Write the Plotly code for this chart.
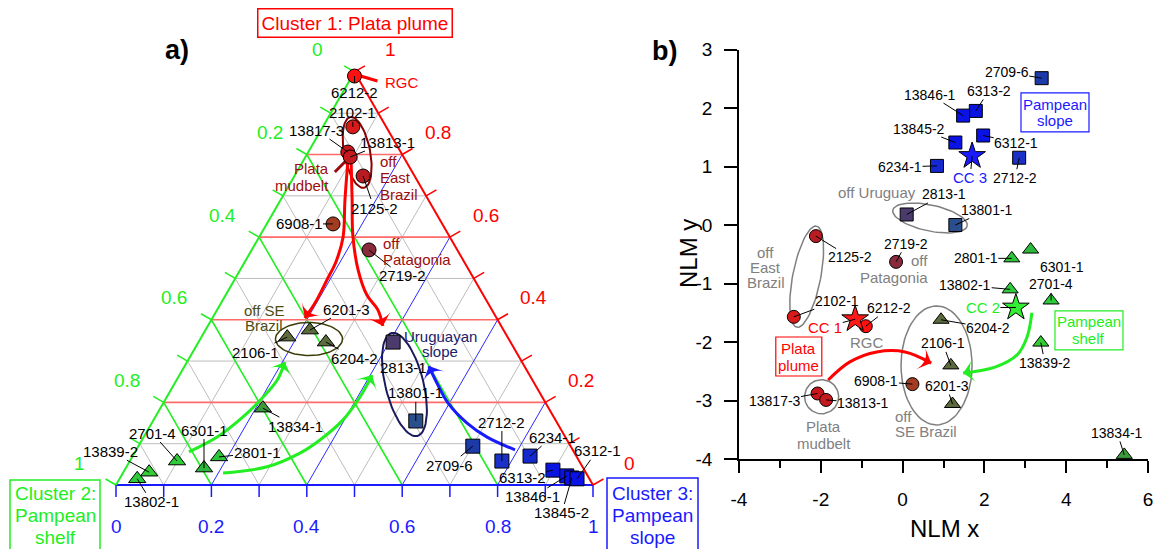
import math
import plotly.graph_objects as go

FIG_W, FIG_H = 1156, 549
FONT = "Liberation Sans, Arial, sans-serif"

RED, GREEN, BLUE = "#ff0000", "#22ee22", "#1a1aff"

# ---------------------------------------------------------------- data
samples = ["6212-2", "2102-1", "13817-3", "13813-1", "2125-2", "6908-1", "2719-2",
           "6201-3", "2106-1", "6204-2", "13834-1", "2701-4", "6301-1", "2801-1",
           "13839-2", "13802-1",
           "2813-1", "13801-1", "2709-6", "2712-2", "6234-1", "6313-2", "13846-1",
           "13845-2", "6312-1"]
group = [1, 1, 1, 1, 1, 1, 1,
         2, 2, 2, 2, 2, 2, 2, 2, 2,
         3, 3, 3, 3, 3, 3, 3, 3, 3]

# fuzzy memberships to the three clusters (ternary diagram)
memb_c1 = [0.990, 0.867, 0.806, 0.794, 0.748, 0.632, 0.569,
           0.375, 0.358, 0.346, 0.186, 0.058, 0.041, 0.068, 0.031, 0.015,
           0.346, 0.155, 0.094, 0.058, 0.070, 0.036, 0.022, 0.017, 0.015]
memb_c2 = [0.005, 0.070, 0.111, 0.112, 0.108, 0.229, 0.185,
           0.406, 0.462, 0.387, 0.599, 0.843, 0.795, 0.750, 0.915, 0.948,
           0.246, 0.294, 0.205, 0.162, 0.097, 0.066, 0.044, 0.036, 0.026]
memb_c3 = [0.005, 0.063, 0.083, 0.094, 0.144, 0.139, 0.246,
           0.219, 0.180, 0.267, 0.215, 0.099, 0.164, 0.182, 0.054, 0.037,
           0.408, 0.551, 0.701, 0.780, 0.833, 0.898, 0.934, 0.947, 0.959]

# non-linear mapping coordinates
nlm_x = [-0.90, -2.66, -2.08, -1.87, -2.12, 0.24, -0.16,
         1.22, 1.18, 0.94, 5.42, 3.63, 3.13, 2.67, 3.38, 2.63,
         0.10, 1.29, 3.40, 2.85, 0.84, 1.79, 1.48, 1.29, 1.97]
nlm_y = [-1.73, -1.57, -2.88, -2.99, -0.19, -2.72, -0.63,
         -3.06, -2.40, -1.62, -3.93, -1.29, -0.42, -0.57, -2.01, -1.10,
         0.18, 0.00, 2.51, 1.15, 1.01, 1.95, 1.87, 1.41, 1.53]

centre_names = ["CC 1", "CC 2", "CC 3"]
centre_x = [-1.16, 2.77, 1.70]
centre_y = [-1.61, -1.41, 1.18]

tern_ticks = [0, 0.2, 0.4, 0.6, 0.8, 1]
tern_tick_text = ["0", "0.2", "0.4", "0.6", "0.8", "1"]
x_tickvals = [-4, -2, 0, 2, 4, 6]
x_ticktext = ["-4", "-2", "0", "2", "4", "6"]
y_tickvals = [-4, -3, -2, -1, 0, 1, 2, 3]
y_ticktext = ["-4", "-3", "-2", "-1", "0", "1", "2", "3"]

# ---------------------------------------------------------------- styles
sample_color = {
    "6212-2": "#ff1010", "2102-1": "#d81a1a", "13817-3": "#c8161c", "13813-1": "#c41a20",
    "2125-2": "#b81c22", "6908-1": "#a43c22", "2719-2": "#8a2b3c",
    "6201-3": "#5b6a3c", "2106-1": "#5d6b3d", "6204-2": "#5a6b3d", "13834-1": "#3c9a3c",
    "2701-4": "#2fcc3a", "6301-1": "#2cb83a", "2801-1": "#2ec43a", "13839-2": "#33cc33",
    "13802-1": "#2ecc3a",
    "2813-1": "#4a3b6c", "13801-1": "#2b4e8c", "2709-6": "#1c3aa8", "2712-2": "#1a30c8",
    "6234-1": "#1428d0", "6313-2": "#0a14e0", "13846-1": "#0a12e6", "13845-2": "#0a12e6",
    "6312-1": "#0a12e6",
}
group_symbol = {1: "circle", 2: "triangle-up", 3: "square"}
tern_size = {1: 14, 2: 15, 3: 14}
nlm_size = {1: 13, 2: 14, 3: 13}

# label offsets (pixels, label centre relative to its marker)
tern_lab_dx = [0, 0, -31, 37, 11, -34, 33, 37, -32, 29, 33, -25, 0, 38, -39, 14,
               10, 0, -23, 0, 22, -30, -34, -10, 20]
tern_lab_dy = [16, -14, -22, -15, 32, 0, 26, -21, 15, 16, 18, -28, -38, -4, -21, 23,
               25, -28, 19, -39, -19, 7, 21, 35, -28]
nlm_lab_dx = [23, 43, -43, 37, 34, -36, 10, -6, -8, 47, -7, 0, 31, -36, 4, -45,
              37, 32, -35, -4, -37, 13, -33, -36, 33]
nlm_lab_dy = [-18, -16, 8, 3, 21, -3, -18, -18, -22, 8, -22, -16, 17, 0, 20, -4,
              -20, -15, -6, 20, 1, -20, -21, -14, 7]

# ---------------------------------------------------------------- frames
# ternary panel: a hidden equal-scale cartesian frame, side of the triangle = 1 unit
TRI_LEFT, TRI_BASE, TRI_SIDE = 116.0, 485.0, 477.0      # pixels
LEFT_PANEL_W = 620.0
X2_RANGE = [-TRI_LEFT / TRI_SIDE, (LEFT_PANEL_W - TRI_LEFT) / TRI_SIDE]
Y2_RANGE = [-(FIG_H - TRI_BASE) / TRI_SIDE, TRI_BASE / TRI_SIDE]
HALF_R3 = math.sqrt(3) / 2

XY_DOM_X = [739 / FIG_W, 1148 / FIG_W]
XY_DOM_Y = [1 - 459 / FIG_H, 1 - 49.5 / FIG_H]
X_RANGE, Y_RANGE = [-4, 6], [-4, 3]
PX_PER_X = (XY_DOM_X[1] - XY_DOM_X[0]) * FIG_W / (X_RANGE[1] - X_RANGE[0])
PX_PER_Y = (XY_DOM_Y[1] - XY_DOM_Y[0]) * FIG_H / (Y_RANGE[1] - Y_RANGE[0])


def proj(a, b, c):
    """Ternary (Cluster 1, Cluster 2, Cluster 3) -> plane of the triangle."""
    s = a + b + c
    return (c + a / 2) / s, a * HALF_R3 / s


def px_shift(x, y, dx, dy):
    return x + dx / TRI_SIDE, y - dy / TRI_SIDE


def ellipse_offsets(rx, ry, rot, n=72):
    th = math.radians(rot)
    out = []
    for k in range(n + 1):
        t = 2 * math.pi * k / n
        ex, ey = rx * math.cos(t), ry * math.sin(t)
        out.append((ex * math.cos(th) - ey * math.sin(th),
                    ex * math.sin(th) + ey * math.cos(th)))
    return out


def seg_trace(segs, color, width, xa="x2", ya="y2"):
    X, Y = [], []
    for (x0, y0), (x1, y1) in segs:
        X += [x0, x1, None]
        Y += [y0, y1, None]
    return go.Scatter(x=X, y=Y, mode="lines", hoverinfo="skip", showlegend=False,
                      xaxis=xa, yaxis=ya, line=dict(color=color, width=width))


fig = go.Figure()

# ---------------------------------------------------------------- ternary grid
def family(kind, v):
    if kind == "a":
        return proj(v, 1 - v, 0), proj(v, 0, 1 - v)
    if kind == "b":
        return proj(1 - v, v, 0), proj(0, v, 1 - v)
    return proj(1 - v, 0, v), proj(0, 1 - v, v)


minor_v = [0.1, 0.3, 0.5, 0.7, 0.9]
major_v = [0.2, 0.4, 0.6, 0.8]
fig.add_trace(seg_trace([family(k, v) for k in "abc" for v in minor_v], "#bdbdbd", 1))
fig.add_trace(seg_trace([family("c", v) for v in major_v], "#2a2aff", 1))
fig.add_trace(seg_trace([family("b", v) for v in major_v], "#22ee22", 1.6))
fig.add_trace(seg_trace([family("a", v) for v in major_v], "#ff6a6a", 1.6))

# ticks (every 0.1, perpendicular to each side)
tick_v = [k / 10 for k in range(11)]
TL = 12
def tick_segs(points, dx, dy):
    return [(p, px_shift(*p, dx, dy)) for p in points]

fig.add_trace(seg_trace(tick_segs([proj(1 - v, v, 0) for v in tick_v], -TL * HALF_R3, -TL / 2), GREEN, 1.5))
fig.add_trace(seg_trace(tick_segs([proj(v, 0, 1 - v) for v in tick_v], TL * HALF_R3, -TL / 2), RED, 1.5))
fig.add_trace(seg_trace(tick_segs([proj(0, 1 - v, v) for v in tick_v], 0, TL), BLUE, 1.5))

# sides of the triangle
fig.add_trace(seg_trace([(proj(0, 1, 0), proj(0, 0, 1))], BLUE, 2))
fig.add_trace(seg_trace([(proj(0, 1, 0), proj(1, 0, 0))], GREEN, 2))
fig.add_trace(seg_trace([(proj(1, 0, 0), proj(0, 0, 1))], RED, 2))

# ---------------------------------------------------------------- ternary group outlines
idx = {s: i for i, s in enumerate(samples)}
tern_xy = [proj(memb_c1[i], memb_c2[i], memb_c3[i]) for i in range(len(samples))]
DARK_RED = "#9b0d0d"

tern_ellipses = [
    ((0.805, 0.092, 0.103), 13, 36, -11, "#8b0000", 2),
    ((0.3535, 0.4187, 0.2278), 33.5, 16.5, 0, "#3c3c08", 1.5),
    ((0.2433, 0.2736, 0.4831), 19, 53, -14, "#1a1a5e", 2),
]
for centre, rx, ry, rot, col, lw in tern_ellipses:
    cx, cy = proj(*centre)
    pts = [px_shift(cx, cy, dx, dy) for dx, dy in ellipse_offsets(rx, ry, rot)]
    fig.add_trace(go.Scatter(x=[p[0] for p in pts], y=[p[1] for p in pts], mode="lines",
                             xaxis="x2", yaxis="y2", hoverinfo="skip", showlegend=False,
                             line=dict(color=col, width=lw)))

# thick pointers of the RGC and mudbelt names
for anchor, d0, d1, col in [("6212-2", (6, 0), (23, 5), RED),
                            ("13817-3", (-13, 20), (-1, 8), DARK_RED)]:
    p = tern_xy[idx[anchor]]
    fig.add_trace(seg_trace([(px_shift(*p, *d0), px_shift(*p, *d1))], col, 3))

# ---------------------------------------------------------------- ternary transport arrows
tern_arrows = [
    (RED, [(0.782, 0.123, 0.095), (0.690, 0.175, 0.135), (0.600, 0.224, 0.176),
           (0.540, 0.269, 0.191), (0.496, 0.310, 0.194), (0.441, 0.362, 0.197),
           (0.404, 0.402, 0.194)]),
    (RED, [(0.782, 0.116, 0.102), (0.690, 0.160, 0.150), (0.605, 0.201, 0.194),
           (0.521, 0.232, 0.247), (0.460, 0.244, 0.296), (0.424, 0.239, 0.337),
           (0.385, 0.248, 0.367)]),
    (GREEN, [(0.080, 0.807, 0.113), (0.116, 0.730, 0.154), (0.165, 0.652, 0.184),
             (0.213, 0.585, 0.202), (0.254, 0.535, 0.211), (0.298, 0.497, 0.205)]),
    (GREEN, [(0.029, 0.761, 0.210), (0.044, 0.661, 0.295), (0.077, 0.576, 0.347),
             (0.109, 0.518, 0.373), (0.157, 0.446, 0.397), (0.213, 0.382, 0.405),
             (0.266, 0.330, 0.404)]),
    (BLUE, [(0.085, 0.121, 0.794), (0.116, 0.164, 0.720), (0.150, 0.189, 0.661),
            (0.199, 0.205, 0.597), (0.247, 0.204, 0.550), (0.288, 0.200, 0.512)]),
]
for col, path in tern_arrows:
    pts = [proj(*p) for p in path]
    n = len(pts)
    fig.add_trace(go.Scatter(
        x=[p[0] for p in pts], y=[p[1] for p in pts], xaxis="x2", yaxis="y2",
        mode="lines+markers", hoverinfo="skip", showlegend=False,
        line=dict(color=col, width=3, shape="spline"),
        marker=dict(symbol="arrow-wide", size=[0] * (n - 1) + [17], color=col, opacity=1,
                    angleref="previous", line=dict(width=0))))

# ---------------------------------------------------------------- ternary samples
fig.add_trace(go.Scatter(
    x=[p[0] for p in tern_xy], y=[p[1] for p in tern_xy], xaxis="x2", yaxis="y2",
    mode="markers", text=samples, hoverinfo="text", showlegend=False,
    marker=dict(symbol=[group_symbol[g] for g in group],
                size=[tern_size[g] for g in group], opacity=1,
                color=[sample_color[s] for s in samples],
                line=dict(color="black", width=1))))

# ---------------------------------------------------------------- NLM panel: outlines
nlm_ellipses = [
    (0.67, 0.12, 38, 13, 12),
    (-2.345, -0.884, 14, 51.5, 11),
    (-1.98, -2.935, 17, 17, 0),
    (0.83, -2.40, 35.5, 59.5, 0),
]
for cx, cy, rx, ry, rot in nlm_ellipses:
    offs = ellipse_offsets(rx, ry, rot)
    fig.add_trace(go.Scatter(x=[cx + dx / PX_PER_X for dx, dy in offs],
                             y=[cy - dy / PX_PER_Y for dx, dy in offs],
                             mode="lines", hoverinfo="skip", showlegend=False,
                             line=dict(color="#7f7f7f", width=1.5)))

# NLM panel arrows
nlm_arrows = [
    (RED, [-1.82, -1.29, -0.63, 0.06, 0.70], [-2.65, -2.34, -2.17, -2.17, -2.36]),
    (GREEN, [3.16, 3.05, 2.80, 2.26, 1.48], [-1.50, -1.90, -2.22, -2.43, -2.53]),
]
for col, ax_, ay_ in nlm_arrows:
    n = len(ax_)
    fig.add_trace(go.Scatter(
        x=ax_, y=ay_, mode="lines+markers", hoverinfo="skip", showlegend=False,
        line=dict(color=col, width=3, shape="spline"),
        marker=dict(symbol="arrow-wide", size=[0] * (n - 1) + [17], color=col, opacity=1,
                    angleref="previous", line=dict(width=0))))

# NLM samples and cluster centres
fig.add_trace(go.Scatter(
    x=nlm_x, y=nlm_y, mode="markers", text=samples, hoverinfo="text", showlegend=False,
    cliponaxis=False,
    marker=dict(symbol=[group_symbol[g] for g in group],
                size=[nlm_size[g] for g in group], opacity=1,
                color=[sample_color[s] for s in samples],
                line=dict(color="black", width=1))))
fig.add_trace(go.Scatter(
    x=centre_x, y=centre_y, mode="markers", text=centre_names, hoverinfo="text",
    showlegend=False,
    marker=dict(symbol="star", size=20, color=["#ff1a1a", "#33ee33", "#1a1aff"], opacity=1,
                line=dict(color="black", width=1))))

# ---------------------------------------------------------------- annotations
ann = []
shapes = []


def text_lines(x, y, lines, size, color, spacing, xref, yref, xanchor="center",
               dx=0, dy=0):
    """Stack of single-line texts with a fixed line pitch (pixels)."""
    n = len(lines)
    for k, line in enumerate(lines):
        ann.append(dict(x=x, y=y, xref=xref, yref=yref, text=line, showarrow=False,
                        xanchor=xanchor, yanchor="middle", xshift=dx,
                        yshift=-(dy + (k - (n - 1) / 2) * spacing),
                        font=dict(size=size, color=color, family=FONT)))


# ternary side labels
def side_labels(points, dx, dy, col):
    for (x, y), t in zip(points, tern_tick_text):
        text_lines(x, y, [t], 19, col, 0, "x2", "y2", dx=dx, dy=dy)

side_labels([proj(1 - v, v, 0) for v in tern_ticks], -37, -22, GREEN)
side_labels([proj(v, 0, 1 - v) for v in tern_ticks], 36, -22, RED)
side_labels([proj(0, 1 - v, v) for v in tern_ticks], 0, 41, BLUE)

# sample labels with leaders, both panels
for i, s in enumerate(samples):
    ann.append(dict(x=tern_xy[i][0], y=tern_xy[i][1], xref="x2", yref="y2", text=s,
                    showarrow=True, arrowhead=0, arrowwidth=1, arrowcolor="black",
                    ax=tern_lab_dx[i], ay=tern_lab_dy[i], standoff=0, borderpad=0,
                    font=dict(size=15, color="black", family=FONT)))
    ann.append(dict(x=nlm_x[i], y=nlm_y[i], xref="x", yref="y", text=s,
                    showarrow=True, arrowhead=0, arrowwidth=1, arrowcolor="black",
                    ax=nlm_lab_dx[i], ay=nlm_lab_dy[i], standoff=0, borderpad=0,
                    font=dict(size=14, color="black", family=FONT)))

# group names inside the ternary (anchor sample, pixel offset, line pitch)
tern_groups = [
    (["RGC"], "6212-2", 28, 6, 0, "left", RED),
    (["Plata", "mudbelt"], "13817-3", -17, 24.5, 17, "right", DARK_RED),
    (["off", "East", "Brazil"], "2125-2", 15, 1.5, 16.5, "left", DARK_RED),
    (["off", "Patagonia"], "2719-2", 12, 2, 16, "left", DARK_RED),
    (["off SE", "Brazil"], "2106-1", -23, -19, 15.7, "center", "#4d4d16"),
    (["Uruguayan", "slope"], "2813-1", 47, 2, 15, "center", "#20206a"),
]
for lines, anchor, dx, dy, pitch, xa, col in tern_groups:
    x, y = tern_xy[idx[anchor]]
    text_lines(x, y, lines, 15, col, pitch, "x2", "y2", xanchor=xa, dx=dx, dy=dy)

# cluster centre names
centre_lab = [(-30, 8, RED), (-33, 0, "#22ee22"), (-2, 22, BLUE)]
for k, (dx, dy, col) in enumerate(centre_lab):
    ann.append(dict(x=centre_x[k], y=centre_y[k], xref="x", yref="y", text=centre_names[k],
                    showarrow=True, arrowhead=0, arrowwidth=1, arrowcolor="black",
                    ax=dx, ay=dy, standoff=0, borderpad=0,
                    font=dict(size=15, color=col, family=FONT)))

GREY = "#808080"
for lines, x, y, pitch, xa in [
    (["off Uruguay"], -0.633, 0.552, 0, "center"),
    (["off", "East", "Brazil"], -3.34, -0.718, 15, "center"),
    (["off", "Patagonia"], 0.67, -0.744, 17, "right"),
    (["RGC"], -0.878, -2.017, 0, "center"),
    (["Plata", "mudbelt"], -1.922, -3.59, 16.3, "center"),
    (["off", "SE Brazil"], -0.242, -3.41, 15, "left"),
]:
    text_lines(x, y, lines, 15, GREY, pitch, "x", "y", xanchor=xa)

# boxed names in the NLM panel
for lines, x, y, w, pitch, col in [(["Plata", "plume"], -2.538, -2.248, 46, 17, RED),
                                   (["Pampean", "shelf"], 4.557, -1.80, 68, 16.7, "#22ee22"),
                                   (["Pampean", "slope"], 3.726, 1.926, 68, 16, BLUE)]:
    shapes.append(dict(type="rect", xref="x", yref="y", xsizemode="pixel",
                       ysizemode="pixel", xanchor=x, yanchor=y, x0=-w / 2, x1=w / 2,
                       y0=-19.5, y1=19.5, line=dict(color=col, width=1.2),
                       fillcolor="white", layer="above"))
    text_lines(x, y, lines, 15, col, pitch, "x", "y")

# cluster legends at the ternary corners
ann.append(dict(x=355 / FIG_W, y=1 - 22.5 / FIG_H, xref="paper", yref="paper",
                xanchor="center", yanchor="middle",
                text="Cluster 1: Plata plume", showarrow=False, bordercolor=RED,
                borderwidth=1.5, borderpad=3, font=dict(size=19, color=RED, family=FONT)))
for lines, cx, top, left, right, mid, col in [
        (["Cluster 2:", "Pampean", "shelf"], 55, 480, 10, 100, 515.5, GREEN),
        (["Cluster 3:", "Pampean", "slope"], 652.5, 478, 607, 698, 515.5, BLUE)]:
    shapes.append(dict(type="rect", xref="paper", yref="paper", x0=left / FIG_W,
                       x1=right / FIG_W, y0=1 - top / FIG_H, y1=-0.1,
                       line=dict(color=col, width=1.5)))
    text_lines(cx / FIG_W, 1 - mid / FIG_H, lines, 19, col, 22, "paper", "paper")

for text, x, y in [("a)", 177, 50), ("b)", 664, 51)]:
    ann.append(dict(x=x / FIG_W, y=1 - y / FIG_H, xref="paper", yref="paper",
                    xanchor="center", yanchor="middle",
                    text="<b>%s</b>" % text, showarrow=False,
                    font=dict(size=27, color="black", family=FONT)))

# axis titles of the NLM panel
ann.append(dict(x=944 / FIG_W, y=1 - 528 / FIG_H, xref="paper", yref="paper",
                xanchor="center", yanchor="middle", text="NLM x", showarrow=False,
                font=dict(size=24, color="black", family=FONT)))
ann.append(dict(x=689 / FIG_W, y=1 - 254 / FIG_H, xref="paper", yref="paper",
                xanchor="center", yanchor="middle", text="NLM y", showarrow=False,
                textangle=-90, font=dict(size=24, color="black", family=FONT)))

fig.update_layout(
    width=FIG_W, height=FIG_H,
    margin=dict(l=0, r=0, t=0, b=0, autoexpand=False),
    paper_bgcolor="white", plot_bgcolor="rgba(0,0,0,0)",
    font=dict(family=FONT, color="black"),
    showlegend=False,
    xaxis2=dict(domain=[0, LEFT_PANEL_W / FIG_W], range=X2_RANGE, visible=False,
                anchor="y2", fixedrange=True),
    yaxis2=dict(domain=[0, 1], range=Y2_RANGE, visible=False, anchor="x2", fixedrange=True),
    xaxis=dict(domain=XY_DOM_X, range=X_RANGE, tickmode="array", tickvals=x_tickvals,
               ticktext=x_ticktext, ticks="outside",
               ticklen=12, tickwidth=1.5, tickcolor="black", showline=True, linewidth=1.5,
               linecolor="black", showgrid=False, zeroline=False, ticklabelstandoff=10,
               minor=dict(tickmode="linear", tick0=-4, dtick=1, ticks="outside", ticklen=7,
                          tickwidth=1.5, tickcolor="black", showgrid=False),
               tickfont=dict(size=19), anchor="y"),
    yaxis=dict(domain=XY_DOM_Y, range=Y_RANGE, tickmode="array", tickvals=y_tickvals,
               ticktext=y_ticktext, ticks="outside",
               ticklen=13, tickwidth=1.5, tickcolor="black", showline=True, linewidth=1.5,
               linecolor="black", showgrid=False, zeroline=False, ticklabelstandoff=8,
               tickfont=dict(size=19), anchor="x"),
    annotations=ann,
    shapes=shapes,
)

fig.write_html("out.html")
